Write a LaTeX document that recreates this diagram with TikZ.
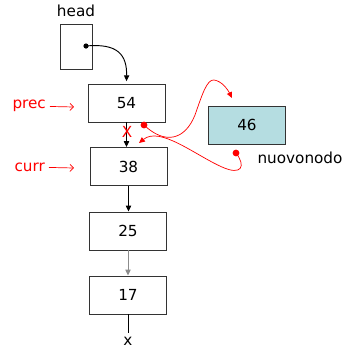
\documentclass[tikz,border=0pt]{standalone}
\usepackage{fontspec}
\setmainfont{DejaVu Sans}
\usetikzlibrary{arrows.meta}
\definecolor{nodefill}{HTML}{B5DDE1}
\begin{document}
\begin{tikzpicture}[x=0.03cm,y=-0.03cm,
  txt/.style={font=\fontsize{13}{15}\selectfont},
  box/.style={txt,draw=black!80,line width=0.8pt,minimum width=2.31cm,minimum height=1.14cm},
  link/.style={-{Triangle[length=5pt,width=4.5pt]},line width=0.8pt},
  ptr/.style={red,-{Straight Barb[length=3pt,width=6pt]},line width=0.6pt},
  move/.style={red,-{Triangle[length=5pt,width=4.5pt]},line width=0.6pt}]
\useasboundingbox (0,0) rectangle (345,350);
\node [txt] (headlab) at (76,11) {head};
\node [box, minimum width=0.96cm, minimum height=1.35cm] (head) at (76,46.5) {};
\node [box] (n54) at (126.5,103) {54};
\node [box] (n38) at (128.5,166.5) {38};
\node [box] (n25) at (128,231) {25};
\node [box] (n17) at (128,295) {17};
\node [box, fill=nodefill] (n46) at (247,125) {46};
\node [txt] (nuovolab) at (300,158) {nuovonodo};
\node [txt] (nil) at (128,341) {x};
\node [txt, red, anchor=east] (prec) at (50,106) {prec};
\node [txt, red, anchor=east] (curr) at (49,167) {curr};
\coordinate (precto) at (74,107);
\coordinate (currto) at (74,168);
\draw [ptr] (prec) -- (precto);
\draw [ptr] (curr) -- (currto);
% pointers of the list
\coordinate (hd) at (86,46);
\fill (hd) circle (2.6);
\draw [link] (hd) .. controls (118,43) and (127,55) .. ([yshift=2pt]n54.north);
\draw [link] (n54.south) -- (n54.south |- n38.north);
\draw [link] (n38.south) -- (n38.south |- n25.north);
\draw [link, draw=black!45] (n25.south) -- (n25.south |- n17.north);
\draw [line width=0.8pt] (n17.south) -- (nil.north);
\node [red, font=\fontsize{13}{15}\selectfont] (cut) at (127,132) {X};
% new links
\coordinate (p1) at (144,125);
\coordinate (p1to) at (232,98);
\coordinate (p2) at (236,153);
\coordinate (p2to) at (139,143);
\fill [red] (p1) circle (3.4);
\fill [red] (p2) circle (3.4);
\draw [move] (p1) .. controls (165,145) and (185,140) .. (195,115)
  .. controls (202,95) and (207,79) .. (214,80)
  .. controls (222,81) and (228,90) .. (p1to);
\draw [move] (p2) .. controls (246,166) and (242,176) .. (222,167)
  .. controls (195,155) and (160,126) .. (p2to);
\end{tikzpicture}
\end{document}
